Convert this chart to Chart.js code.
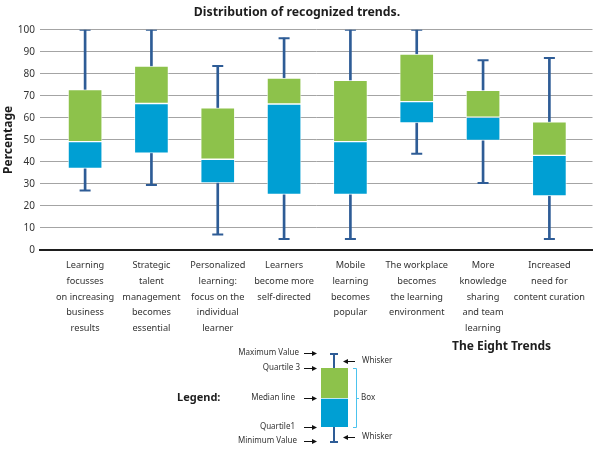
<!DOCTYPE html>
<html>
<head>
<meta charset="utf-8">
<script src="https://cdn.jsdelivr.net/npm/chart.js@4.4.0/dist/chart.umd.min.js"></script>
<style>
  body { margin: 0; background: #fff; }
  #wrap { width: 600px; height: 453px; }
</style>
</head>
<body>
<div id="wrap"><canvas id="trendsChart" width="600" height="453"></canvas></div>
<script>
// the eight trends (x axis labels, one array per category)
const trendLabels = [
    ['Learning', 'focusses', 'on increasing', 'business', 'results'],
    ['Strategic', 'talent', 'management', 'becomes', 'essential'],
    ['Personalized', 'learning:', 'focus on the', 'individual', 'learner'],
    ['Learners', 'become more', 'self-directed'],
    ['Mobile', 'learning', 'becomes', 'popular'],
    ['The workplace', 'becomes', 'the learning', 'environment'],
    ['More', 'knowledge', 'sharing', 'and team', 'learning'],
    ['Increased', 'need for', 'content curation']
];

// box plot statistics (percent)
const minValues    = [27, 29.5, 7, 5, 5, 43.7, 30.4, 5];
const q1Values     = [37, 44, 30.5, 25.2, 25.2, 57.7, 49.7, 24.5];
const medianValues = [49.2, 66.5, 41.2, 66.3, 49.2, 67.4, 60.3, 43];
const q3Values     = [72.8, 83.5, 64.5, 78.1, 77, 89, 72.5, 58.2];
const maxValues    = [100, 100, 83.5, 96.2, 100, 100, 86.1, 87.2];

const yTickValues = [0, 10, 20, 30, 40, 50, 60, 70, 80, 90, 100];

const boxGreen = '#8dc24b';
const boxBlue = '#009fd3';
const whiskerColor = '#2e5c96';
const fontFamily = "'Noto Sans', sans-serif";

const idx = trendLabels.map((l, i) => i);

// draws the explanatory box diagram under the chart
const legendDiagram = {
    id: 'legendDiagram',
    afterDraw(chart) {
        const ctx = chart.ctx;
        ctx.save();
        ctx.textBaseline = 'middle';
        ctx.fillStyle = '#1e1e1e';
        ctx.textAlign = 'left';
        ctx.font = 'bold 11px ' + fontFamily;
        ctx.fillText('Legend:', 177, 398);
        ctx.font = 'bold 12px ' + fontFamily;
        ctx.fillText('The Eight Trends', 452, 347);

        // sample box
        ctx.fillStyle = boxGreen;
        ctx.fillRect(321, 368, 27, 30);
        ctx.fillStyle = boxBlue;
        ctx.fillRect(321, 398, 27, 29);
        ctx.strokeStyle = 'rgba(255,255,255,0.75)';
        ctx.lineWidth = 1;
        ctx.beginPath();
        ctx.moveTo(321, 398.5); ctx.lineTo(348, 398.5);
        ctx.stroke();

        // sample whiskers
        ctx.strokeStyle = whiskerColor;
        ctx.lineWidth = 2;
        ctx.beginPath();
        ctx.moveTo(334, 354); ctx.lineTo(334, 368);
        ctx.moveTo(334, 427); ctx.lineTo(334, 442);
        ctx.moveTo(330, 354); ctx.lineTo(338, 354);
        ctx.moveTo(330, 442); ctx.lineTo(338, 442);
        ctx.stroke();

        function arrow(x1, x2, y) {
            const dir = x2 > x1 ? 1 : -1;
            ctx.strokeStyle = '#111';
            ctx.fillStyle = '#111';
            ctx.lineWidth = 1;
            ctx.beginPath();
            ctx.moveTo(x1, y); ctx.lineTo(x2 - dir * 4, y);
            ctx.stroke();
            ctx.beginPath();
            ctx.moveTo(x2, y);
            ctx.lineTo(x2 - dir * 5, y - 2.5);
            ctx.lineTo(x2 - dir * 5, y + 2.5);
            ctx.closePath();
            ctx.fill();
        }

        ctx.font = '8px ' + fontFamily;
        const rows = [
            ['Maximum Value', 299, 353],
            ['Quartile 3', 300, 368],
            ['Median line', 295, 398],
            ['Quartile1', 295, 427],
            ['Minimum Value', 297, 441]
        ];
        rows.forEach(r => {
            ctx.fillStyle = '#333';
            ctx.textAlign = 'right';
            ctx.fillText(r[0], r[1], r[2]);
            arrow(304, 317, r[2] + 0.5);
        });

        ctx.textAlign = 'left';
        ctx.fillStyle = '#333';
        ctx.fillText('Whisker', 362, 361);
        ctx.fillText('Whisker', 362, 437);
        arrow(355, 343, 361.5);
        arrow(355, 343, 437.5);

        // bracket for the box
        ctx.strokeStyle = '#4cc3ee';
        ctx.lineWidth = 1;
        ctx.beginPath();
        ctx.moveTo(353, 368.5); ctx.lineTo(356.5, 368.5); ctx.lineTo(356.5, 427.5); ctx.lineTo(353, 427.5);
        ctx.moveTo(356.5, 398.5); ctx.lineTo(359, 398.5);
        ctx.stroke();
        ctx.fillStyle = '#333';
        ctx.fillText('Box', 361, 398);
        ctx.restore();
    }
};

const ctx = document.getElementById('trendsChart').getContext('2d');

const boxBase = {
    type: 'bar',
    grouped: false,
    barThickness: 34,
    borderWidth: 1,
    borderSkipped: false,
    borderColor: 'rgba(255,255,255,0.6)'
};

const whiskerBase = {
    type: 'bar',
    grouped: false,
    barThickness: 2,
    borderWidth: 0,
    backgroundColor: whiskerColor
};

window.trendsChart = new Chart(ctx, {
    type: 'bar',
    data: {
        datasets: [{
            ...boxBase,
            label: 'Median to Quartile 3',
            data: idx.map(i => ({ x: i, y: [medianValues[i], q3Values[i]] })),
            backgroundColor: boxGreen
        }, {
            ...boxBase,
            label: 'Quartile 1 to Median',
            data: idx.map(i => ({ x: i, y: [q1Values[i], medianValues[i]] })),
            backgroundColor: boxBlue
        }, {
            ...whiskerBase,
            label: 'Upper whisker',
            data: idx.map(i => ({ x: i, y: [q3Values[i], maxValues[i]] }))
        }, {
            ...whiskerBase,
            label: 'Lower whisker',
            data: idx.map(i => ({ x: i, y: [minValues[i], q1Values[i]] }))
        }, {
            type: 'scatter',
            label: 'Whisker caps',
            data: idx.map(i => ({ x: i, y: maxValues[i] }))
                .concat(idx.map(i => ({ x: i, y: minValues[i] }))),
            pointStyle: 'line',
            pointRadius: 5.5,
            pointHoverRadius: 5.5,
            borderWidth: 2,
            borderColor: whiskerColor
        }]
    },
    options: {
        responsive: false,
        animation: false,
        events: [],
        layout: { padding: { left: 0, right: 6, top: 0, bottom: 0 } },
        plugins: {
            legend: { display: false },
            tooltip: { enabled: false },
            title: {
                display: true,
                text: 'Distribution of recognized trends.',
                color: '#1e1e1e',
                font: { family: fontFamily, size: 12.3, weight: 'bold' },
                padding: { top: 5, bottom: 10 }
            }
        },
        scales: {
            x: {
                type: 'linear',
                min: -0.68,
                max: 7.65,
                offset: false,
                z: 1,
                grid: { display: false, offset: false },
                border: { display: true, color: '#1e1e1e', width: 2 },
                afterBuildTicks: scale => {
                    scale.ticks = idx.map(i => ({ value: i }));
                },
                afterFit: scale => { scale.height = 203; },
                ticks: {
                    autoSkip: false,
                    maxRotation: 0,
                    padding: 0,
                    color: '#333',
                    font: { family: fontFamily, size: 9.2, lineHeight: 1.7 },
                    callback: value => trendLabels[value]
                }
            },
            y: {
                min: 0,
                max: 100,
                z: 1,
                afterBuildTicks: scale => {
                    scale.ticks = yTickValues.map(v => ({ value: v }));
                },
                afterFit: scale => { scale.width = 40; },
                grid: {
                    drawTicks: false,
                    color: c => c.tick && c.tick.value === 0 ? 'rgba(0,0,0,0)' : '#a4a4a4'
                },
                border: { display: false },
                ticks: {
                    padding: 5,
                    color: '#333',
                    font: { family: fontFamily, size: 10 }
                },
                title: {
                    display: true,
                    text: 'Percentage',
                    color: '#1e1e1e',
                    font: { family: fontFamily, size: 12, weight: 'bold' },
                    padding: { top: 1, bottom: 0 }
                }
            }
        }
    },
    plugins: [legendDiagram]
});
</script>
</body>
</html>
